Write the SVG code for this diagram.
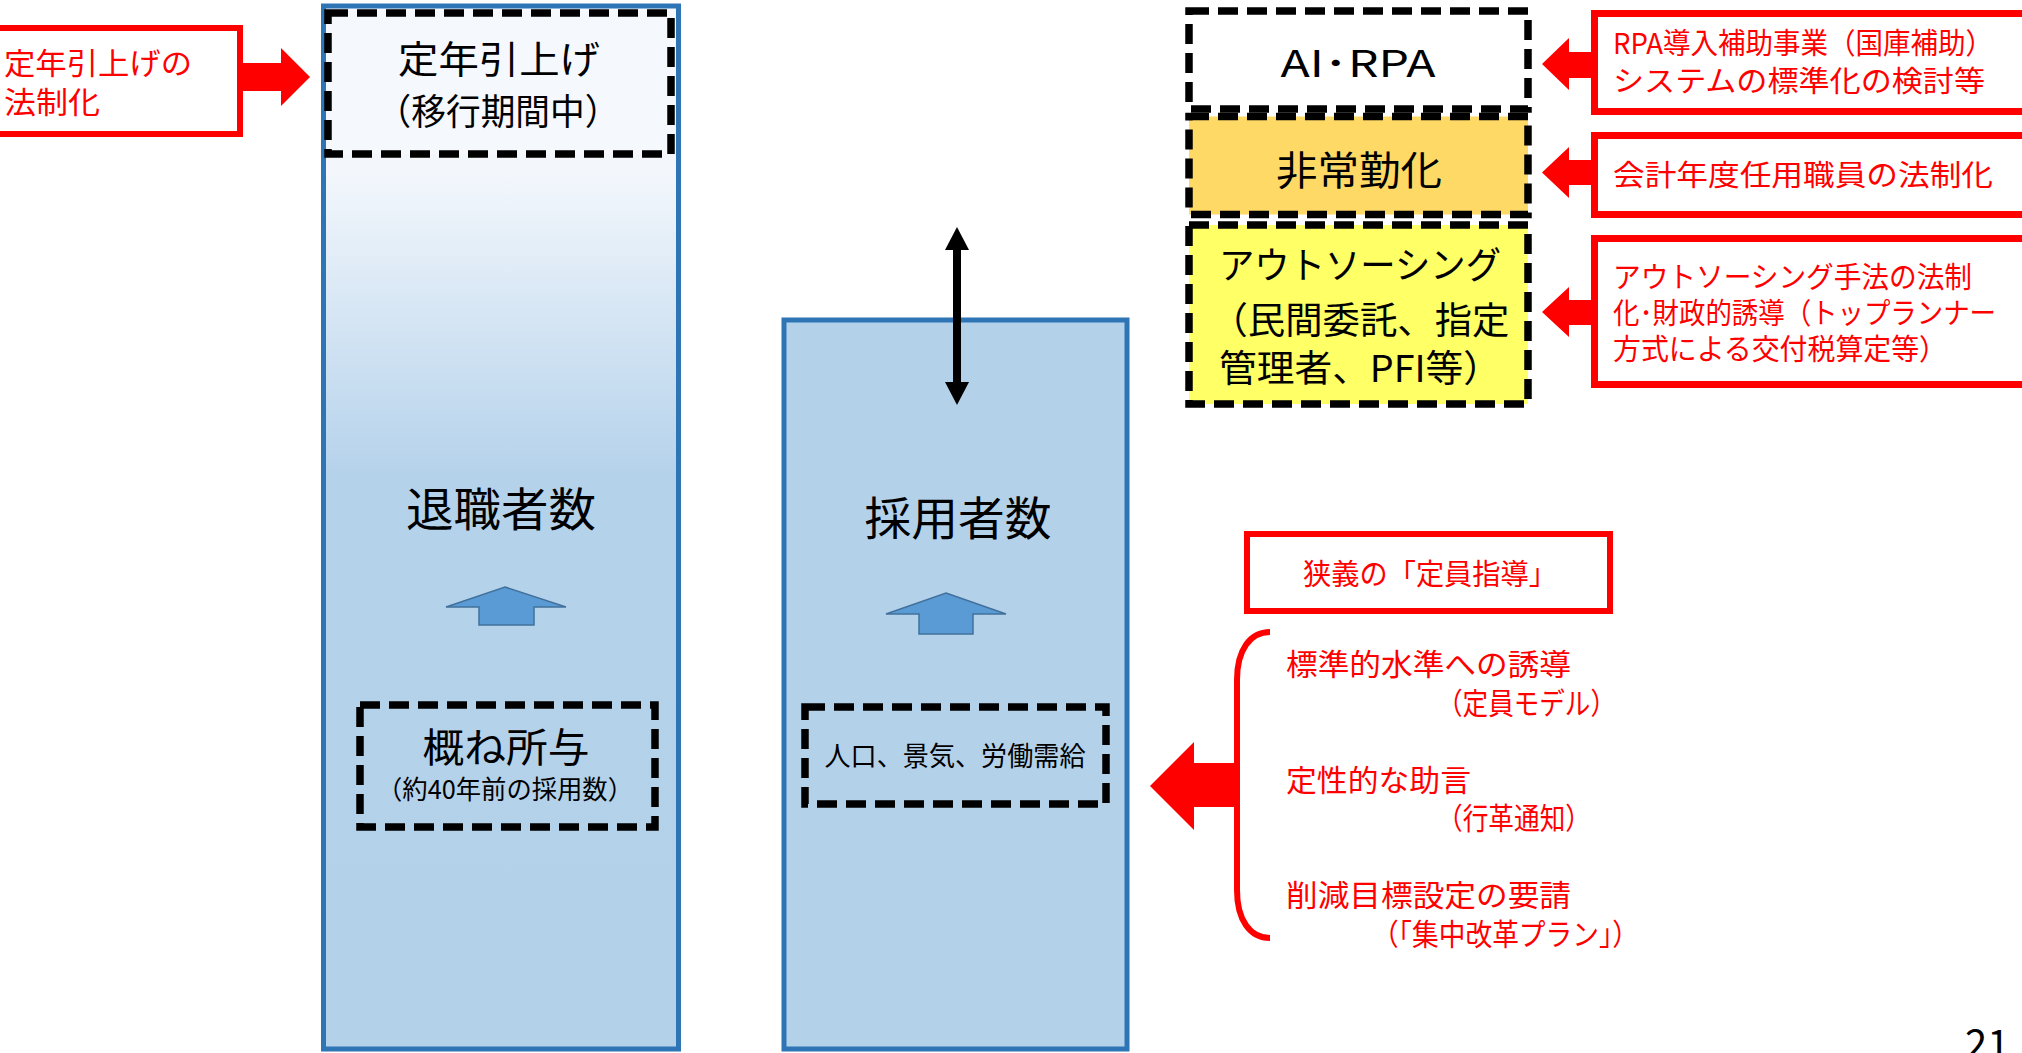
<svg xmlns="http://www.w3.org/2000/svg" width="2022" height="1053" viewBox="0 0 2022 1053">
<defs>
<linearGradient id="colGrad" gradientUnits="userSpaceOnUse" x1="0" y1="6" x2="0" y2="1049">
<stop offset="0" stop-color="#F6F9FD"/>
<stop offset="0.16" stop-color="#F3F7FC"/>
<stop offset="0.45" stop-color="#B5D2EB"/>
<stop offset="1" stop-color="#B4D1EA"/>
</linearGradient>
<marker id="blackHead" viewBox="0 0 23 24" refX="0" refY="12" markerUnits="userSpaceOnUse" markerWidth="23" markerHeight="24" orient="auto-start-reverse">
<path d="M0,0 L23,12 L0,24 z" fill="#000"/>
</marker>
<style>
text{font-family:"Noto Sans CJK JP","Noto Sans",sans-serif;}
.blk{fill:#000;}
.red{fill:#FF0000;}
.col{stroke:#2E75B6;stroke-width:5;}
.dash{stroke:#000;stroke-width:7.5;stroke-dasharray:20 9;}
.rbox{fill:#fff;stroke:#FF0000;}
.rarrow{fill:#FF0000;stroke:none;}
.barrow{fill:#5B9BD5;stroke:#41719C;stroke-width:1.5;}
.mid{text-anchor:middle;}
</style>
</defs>

<g id="left-column">
<rect class="col" x="323.5" y="6" width="355" height="1043" fill="url(#colGrad)"/>
<text class="blk mid" x="501" y="526" font-size="46" textLength="190" lengthAdjust="spacingAndGlyphs">退職者数</text>
</g>

<g id="right-column">
<rect class="col" x="784" y="320" width="343" height="729" fill="#B4D1EA"/>
<text class="blk mid" x="958" y="535" font-size="46" textLength="187" lengthAdjust="spacingAndGlyphs">採用者数</text>
</g>

<g id="teinen-box">
<rect class="dash" x="328" y="13" width="343" height="141" fill="#F5F8FC"/>
<text class="blk mid" x="499" y="73" font-size="38" textLength="202" lengthAdjust="spacingAndGlyphs">定年引上げ</text>
<text class="blk mid" x="498" y="125" font-size="36" textLength="243" lengthAdjust="spacingAndGlyphs">（移行期間中）</text>
</g>

<g id="gaine-box">
<rect class="dash" x="360" y="705" width="295" height="122" fill="none"/>
<text class="blk mid" x="506" y="762" font-size="40" textLength="167" lengthAdjust="spacingAndGlyphs">概ね所与</text>
<text class="blk mid" x="505" y="799" font-size="26" textLength="256" lengthAdjust="spacingAndGlyphs">（約40年前の採用数）</text>
</g>

<g id="jinko-box">
<rect class="dash" x="805" y="707" width="301" height="97" fill="none"/>
<text class="blk mid" x="955" y="766" font-size="27" textLength="261" lengthAdjust="spacingAndGlyphs">人口、景気、労働需給</text>
</g>

<g id="teinen-law-box">
<rect class="rbox" x="-10" y="28" width="250" height="106" stroke-width="6"/>
<text class="red" x="4" y="74" font-size="30" textLength="188" lengthAdjust="spacingAndGlyphs">定年引上げの</text>
<text class="red" x="4" y="113" font-size="30" textLength="96" lengthAdjust="spacingAndGlyphs">法制化</text>
</g>

<g id="ai-rpa-box">
<rect class="dash" x="1189" y="11" width="339" height="98" fill="#FFFFFF"/>
<text class="blk mid" x="1358" y="77" font-size="37" textLength="155" lengthAdjust="spacingAndGlyphs">AI･RPA</text>
</g>

<g id="hijoukin-box">
<rect class="dash" x="1189" y="116.5" width="339" height="98" fill="#FFD966"/>
<text class="blk mid" x="1359" y="185" font-size="40" textLength="166" lengthAdjust="spacingAndGlyphs">非常勤化</text>
</g>

<g id="outsourcing-box">
<rect class="dash" x="1189" y="225" width="339" height="179" fill="#FFFF66"/>
<text class="blk mid" x="1360" y="279" font-size="37" textLength="282" lengthAdjust="spacingAndGlyphs">アウトソーシング</text>
<text class="blk mid" x="1360" y="334" font-size="37" textLength="299" lengthAdjust="spacingAndGlyphs">（民間委託、指定</text>
<text class="blk mid" x="1360" y="382" font-size="37" textLength="282" lengthAdjust="spacingAndGlyphs">管理者、PFI等）</text>
</g>

<g id="rpa-support-box">
<rect class="rbox" x="1594.5" y="13.5" width="440" height="98" stroke-width="7"/>
<text class="red" x="1613" y="54" font-size="29" textLength="380" lengthAdjust="spacingAndGlyphs">RPA導入補助事業（国庫補助）</text>
<text class="red" x="1613" y="92" font-size="29" textLength="372" lengthAdjust="spacingAndGlyphs">システムの標準化の検討等</text>
</g>

<g id="kaikei-box">
<rect class="rbox" x="1594.5" y="135.5" width="440" height="79" stroke-width="7"/>
<text class="red" x="1613" y="186" font-size="29" textLength="380" lengthAdjust="spacingAndGlyphs">会計年度任用職員の法制化</text>
</g>

<g id="outsourcing-law-box">
<rect class="rbox" x="1594.5" y="238.5" width="440" height="146" stroke-width="7"/>
<text class="red" x="1613" y="288" font-size="29" textLength="359" lengthAdjust="spacingAndGlyphs">アウトソーシング手法の法制</text>
<text class="red" x="1613" y="324" font-size="29" textLength="383" lengthAdjust="spacingAndGlyphs">化･財政的誘導（トップランナー</text>
<text class="red" x="1613" y="360" font-size="29" textLength="334" lengthAdjust="spacingAndGlyphs">方式による交付税算定等）</text>
</g>

<g id="teiin-shidou-box">
<rect class="rbox" x="1247" y="534" width="363" height="77" stroke-width="6"/>
<text class="red mid" x="1430" y="585" font-size="29" textLength="254" lengthAdjust="spacingAndGlyphs">狭義の「定員指導」</text>
</g>

<g id="teiin-items">
<text class="red" x="1286" y="675" font-size="30" textLength="285" lengthAdjust="spacingAndGlyphs">標準的水準への誘導</text>
<text class="red" x="1437" y="714" font-size="30" textLength="179" lengthAdjust="spacingAndGlyphs">（定員モデル）</text>
<text class="red" x="1286" y="791" font-size="30" textLength="185" lengthAdjust="spacingAndGlyphs">定性的な助言</text>
<text class="red" x="1437" y="829" font-size="30" textLength="154" lengthAdjust="spacingAndGlyphs">（行革通知）</text>
<text class="red" x="1286" y="906" font-size="30" textLength="285" lengthAdjust="spacingAndGlyphs">削減目標設定の要請</text>
<text class="red" x="1372" y="945" font-size="30" textLength="267" lengthAdjust="spacingAndGlyphs">（「集中改革プラン」）</text>
</g>

<g id="page-number">
<text class="blk" x="1965" y="1059" font-size="40">21</text>
</g>

<g id="connectors">
<polygon class="rarrow" points="243,63 281,63 281,48 310,77 281,106 281,91 243,91"/>
<polygon class="rarrow" points="1591,52 1569,52 1569,38 1542,64 1569,90 1569,78 1591,78"/>
<polygon class="rarrow" points="1591,160 1569,160 1569,147 1542,172.5 1569,198 1569,185 1591,185"/>
<polygon class="rarrow" points="1591,300 1569,300 1569,287 1542,312 1569,337 1569,325 1591,325"/>
<polygon class="rarrow" points="1238,763 1194,763 1194,742 1150,786 1194,830 1194,807 1238,807"/>
<path d="M1270,632 C1250,632 1237,650 1237,680 L1237,890 C1237,920 1250,938 1270,938" fill="none" stroke="#FF0000" stroke-width="6"/>
<polygon class="barrow" points="505,587 566,607 534,607 534,625 479,625 479,607 446,607"/>
<polygon class="barrow" points="946,593 1006,614 973,614 973,634 919,634 919,614 886,614"/>
<line x1="957" y1="250" x2="957" y2="382" stroke="#000" stroke-width="8" marker-start="url(#blackHead)" marker-end="url(#blackHead)"/>
</g>
</svg>
